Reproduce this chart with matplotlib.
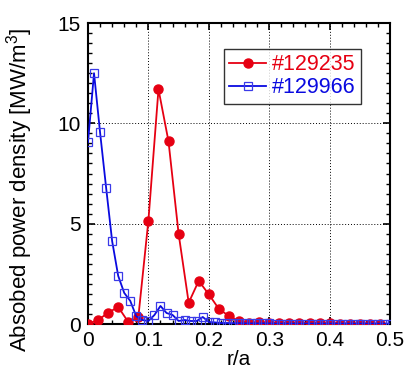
import matplotlib
matplotlib.use('Agg')
import matplotlib.pyplot as plt
from matplotlib.ticker import MultipleLocator

# shot #129235 (red, filled circles), r/a grid of ~1/60
r_red = [0.0, 0.0167, 0.0333, 0.05, 0.0667, 0.0833, 0.1, 0.1167, 0.1333, 0.15,
         0.1667, 0.1833, 0.2, 0.2167, 0.2333, 0.25, 0.2667, 0.2833, 0.3, 0.3167,
         0.3333, 0.35, 0.3667, 0.3833, 0.4, 0.4167, 0.4333, 0.45, 0.4667, 0.4833]
p_red = [0.0, 0.2, 0.56, 0.85, 0.1, 0.33, 5.15, 11.7, 9.1, 4.5,
         1.06, 2.15, 1.48, 0.75, 0.4, 0.13, 0.06, 0.08, 0.07, 0.06,
         0.05, 0.05, 0.04, 0.03, 0.03, 0.02, 0.02, 0.02, 0.01, 0.01]

# shot #129966 (blue, open squares), r/a grid of 0.01
r_blue = [0.0, 0.01, 0.02, 0.03, 0.04, 0.05, 0.06, 0.07, 0.08, 0.09,
          0.10, 0.11, 0.12, 0.13, 0.14, 0.15, 0.16, 0.17, 0.18, 0.19,
          0.20, 0.21, 0.22, 0.23, 0.24, 0.25, 0.26, 0.27, 0.28, 0.29,
          0.30, 0.31, 0.32, 0.33, 0.34, 0.35, 0.36, 0.37, 0.38, 0.39,
          0.40, 0.41, 0.42, 0.43, 0.44, 0.45, 0.46, 0.47, 0.48, 0.49, 0.50]
p_blue = [9.05, 12.5, 9.55, 6.8, 4.13, 2.4, 1.55, 1.15, 0.38, 0.2,
          0.15, 0.45, 0.9, 0.55, 0.45, 0.15, 0.2, 0.15, 0.15, 0.35,
          0.1, 0.08, 0.05, 0.05, 0.04, 0.04, 0.03, 0.03, 0.03, 0.03,
          0.03, 0.02, 0.02, 0.02, 0.02, 0.02, 0.02, 0.02, 0.02, 0.02,
          0.02, 0.02, 0.02, 0.02, 0.02, 0.02, 0.02, 0.02, 0.02, 0.02, 0.02]

RED = '#e60012'
BLUE = '#0a0ae0'

plt.rcParams['font.family'] = ['Liberation Sans', 'DejaVu Sans']
plt.rcParams['mathtext.fontset'] = 'custom'
plt.rcParams['mathtext.rm'] = 'Liberation Sans'

fig = plt.figure(figsize=(4.06, 3.86), dpi=100)
ax = fig.add_axes([0.2167, 0.1606, 0.744, 0.7798])

ax.plot(r_red, p_red, color=RED, lw=1.3, marker='o', ms=6.5,
        mfc=RED, mec=RED, label='#129235', zorder=3)
ax.plot(r_blue, p_blue, color=BLUE, lw=1.3, marker='s', ms=6,
        mfc='none', mec='#3a3ae8', mew=0.9, label='#129966', zorder=4)

ax.set_xlim(0, 0.5)
ax.set_ylim(0, 15)
ax.xaxis.set_major_locator(MultipleLocator(0.1))
ax.xaxis.set_minor_locator(MultipleLocator(0.02))
ax.yaxis.set_major_locator(MultipleLocator(5))
ax.yaxis.set_minor_locator(MultipleLocator(0.5))
ax.set_xticks([0, 0.1, 0.2, 0.3, 0.4, 0.5])
ax.set_xticklabels(['0', '0.1', '0.2', '0.3', '0.4', '0.5'])

ax.tick_params(which='both', direction='in', top=True, right=True, labelsize=15, pad=5)
ax.tick_params(which='major', length=5, width=1.2)
ax.tick_params(which='minor', length=3, width=1.0)
for s in ax.spines.values():
    s.set_linewidth(1.5)

ax.grid(True, which='major', color='k', linestyle=(0, (1, 2)), linewidth=0.7)

ax.set_xlabel('r/a', fontsize=15, labelpad=0)
ax.set_ylabel('Absobed power density [MW/m$^3$]', fontsize=16)
ax.yaxis.set_label_coords(-0.175, 0.445)

leg = ax.legend(loc='upper left', bbox_to_anchor=(0.45, 0.914), fontsize=15.5,
                frameon=True, fancybox=False, edgecolor='k', handlelength=1.7,
                handletextpad=0.3, borderpad=0.25, labelspacing=0.1,
                borderaxespad=0, labelcolor='linecolor')
leg.get_frame().set_linewidth(1.0)

fig.savefig('out.png', dpi=100)
